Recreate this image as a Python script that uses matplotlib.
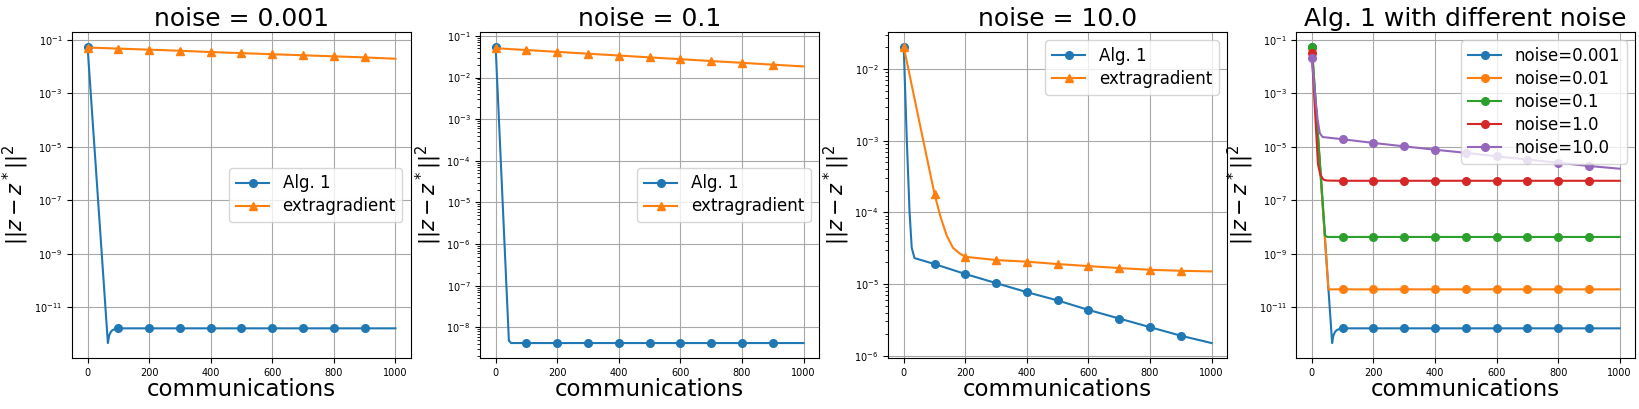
#!/usr/bin/env python3
"""Convergence of Alg. 1 vs extragradient under different noise levels."""

import matplotlib

matplotlib.use("Agg")
import matplotlib.pyplot as plt


# Alg. 1 curves (communications -> ||z - z*||^2)
x_n0001 = [0, 66, 70, 75, 80, 90, 100, 200, 300, 400, 500, 600, 700, 800, 900, 1000]
y_n0001 = [5.5e-2, 4.5e-13, 8.5e-13, 1.15e-12, 1.35e-12, 1.52e-12,
           1.6e-12, 1.6e-12, 1.6e-12, 1.6e-12, 1.6e-12, 1.6e-12, 1.6e-12, 1.6e-12, 1.6e-12, 1.6e-12]

x_n001 = [0, 54, 100, 200, 300, 400, 500, 600, 700, 800, 900, 1000]
y_n001 = [5.0e-2, 4.6e-11, 4.6e-11, 4.6e-11, 4.6e-11, 4.6e-11, 4.6e-11, 4.6e-11,
          4.6e-11, 4.6e-11, 4.6e-11, 4.6e-11]

x_n01 = [0, 43, 50, 100, 200, 300, 400, 500, 600, 700, 800, 900, 1000]
y_n01 = [5.5e-2, 4.8e-9, 4.2e-9, 4.2e-9, 4.2e-9, 4.2e-9, 4.2e-9, 4.2e-9, 4.2e-9,
         4.2e-9, 4.2e-9, 4.2e-9, 4.2e-9]

x_n1 = [0, 20, 27, 38, 50, 100, 200, 300, 400, 500, 600, 700, 800, 900, 1000]
y_n1 = [3.2e-2, 2.2e-6, 9.4e-7, 5.8e-7, 5.4e-7, 5.3e-7, 5.3e-7, 5.3e-7, 5.3e-7,
        5.3e-7, 5.3e-7, 5.3e-7, 5.3e-7, 5.3e-7, 5.3e-7]

x_n10 = [0, 10, 19, 26, 35, 100, 200, 300, 400, 500, 600, 700, 800, 900, 1000]
y_n10 = [2.05e-2, 1.0e-3, 1.0e-4, 3.2e-5, 2.3e-5, 1.9e-5, 1.38e-5, 1.03e-5, 7.7e-6,
         5.9e-6, 4.35e-6, 3.3e-6, 2.5e-6, 1.9e-6, 1.5e-6]

# extragradient curves
x_eg = [0, 100, 200, 300, 400, 500, 600, 700, 800, 900, 1000]
y_eg_0001 = [5.13e-2, 4.68e-2, 4.27e-2, 3.89e-2, 3.47e-2, 3.16e-2, 2.88e-2, 2.63e-2,
             2.40e-2, 2.19e-2, 1.95e-2]
y_eg_01 = [5.07e-2, 4.58e-2, 4.14e-2, 3.74e-2, 3.38e-2, 3.05e-2, 2.76e-2, 2.49e-2,
           2.26e-2, 2.04e-2, 1.85e-2]

x_eg_10 = [0, 50, 100, 120, 140, 160, 180, 200, 300, 400, 500, 600, 700, 800, 900, 1000]
y_eg_10 = [2.05e-2, 1.9e-3, 1.8e-4, 8.5e-5, 4.7e-5, 3.2e-5, 2.7e-5, 2.4e-5, 2.16e-5,
           2.05e-5, 1.9e-5, 1.78e-5, 1.67e-5, 1.58e-5, 1.53e-5, 1.5e-5]

noise_labels = ["noise=0.001", "noise=0.01", "noise=0.1", "noise=1.0", "noise=10.0"]
noise_colors = ["#1f77b4", "#ff7f0e", "#2ca02c", "#d62728", "#9467bd"]


def marks(xs):
    # markers every 100 communications, as in the original runs
    return [i for i, x in enumerate(xs) if x % 100 == 0 and x < 1000]


def style_axes(ax, title):
    ax.set_yscale("log")
    ax.grid(True, color="#a8a8a8", linewidth=0.8)
    ax.set_title(title, fontsize=18, pad=4)
    ax.set_xlabel("communications", fontsize=16.5, labelpad=0)
    ax.set_ylabel(r"$||z - z^*||^2$", fontsize=15, labelpad=2)
    ax.tick_params(labelsize=7)
    ax.set_xticks([0, 200, 400, 600, 800, 1000])


def plot_pair(ax, x_alg, y_alg, x_e, y_e, title, loc):
    ax.plot(x_alg, y_alg, color="#1f77b4", marker="o", markersize=5.5,
            markevery=marks(x_alg), label="Alg. 1")
    ax.plot(x_e, y_e, color="#ff7f0e", marker="^", markersize=5.5,
            markevery=marks(x_e), label="extragradient")
    style_axes(ax, title)
    ax.legend(loc=loc, fontsize=12, labelspacing=0.3)


def main():
    fig, axes = plt.subplots(1, 4, figsize=(16.4, 4.09), dpi=100)
    fig.subplots_adjust(left=0.044, right=0.997, bottom=0.125, top=0.922, wspace=0.205)

    plot_pair(axes[0], x_n0001, y_n0001, x_eg, y_eg_0001, "noise = 0.001", "center right")
    plot_pair(axes[1], x_n01, y_n01, x_eg, y_eg_01, "noise = 0.1", "center right")
    plot_pair(axes[2], x_n10, y_n10, x_eg_10, y_eg_10, "noise = 10.0", "upper right")

    ax = axes[3]
    series = [(x_n0001, y_n0001), (x_n001, y_n001), (x_n01, y_n01), (x_n1, y_n1), (x_n10, y_n10)]
    for (xs, ys), label, color in zip(series, noise_labels, noise_colors):
        ax.plot(xs, ys, color=color, marker="o", markersize=5.5, markevery=marks(xs), label=label)
    style_axes(ax, "Alg. 1 with different noise")
    ax.legend(loc="upper right", fontsize=12, labelspacing=0.3)

    fig.savefig("out.png", dpi=100)
    plt.close(fig)


if __name__ == "__main__":
    main()
